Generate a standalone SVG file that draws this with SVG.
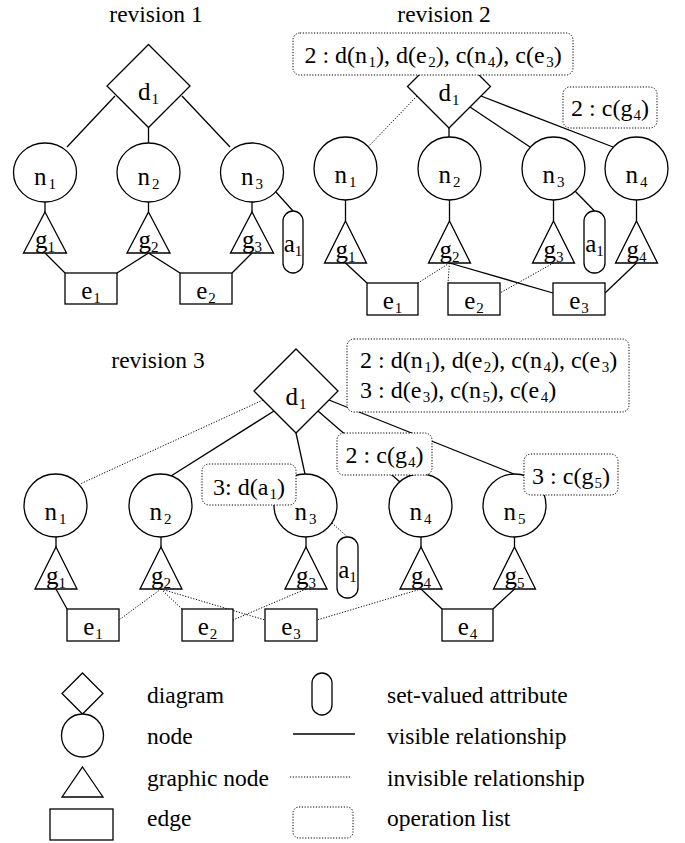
<svg xmlns="http://www.w3.org/2000/svg" width="685" height="843" viewBox="0 0 685 843">
<style>
.s{stroke:#000;stroke-width:1.3;fill:none}
.d{stroke:#000;stroke-width:1;stroke-dasharray:1.2 1.6;fill:none}
.sh{fill:#fff;stroke:#000;stroke-width:1.3}
.op{fill:#fff;stroke:#000;stroke-width:1;stroke-dasharray:1.2 1.6}
text{font-family:Liberation Serif,LiberationSerif,Times New Roman,Tinos,Noto Serif,DejaVu Serif,serif;fill:#000}
.lbl{font-size:25px;text-anchor:middle}
.sub{font-size:15px}
.opt{font-size:24px}
.title{font-size:23.5px;text-anchor:middle}
.leg{font-size:23.5px}
</style>
<rect width="685" height="843" fill="#fff"/>
<text class="title" x="156" y="22">revision 1</text>
<text class="title" x="444" y="22">revision 2</text>
<text class="title" x="158" y="368">revision 3</text>

<g id="connectors">
<line class="s" x1="115" y1="96" x2="67" y2="147"/>
<line class="s" x1="148.5" y1="127.5" x2="148.5" y2="143"/>
<line class="s" x1="182" y1="96" x2="230" y2="147"/>
<line class="s" x1="45" y1="202" x2="45" y2="212"/>
<line class="s" x1="148.5" y1="202" x2="148.5" y2="212"/>
<line class="s" x1="252" y1="202" x2="252" y2="212"/>
<line class="s" x1="275.5" y1="191.5" x2="293" y2="211"/>
<line class="s" x1="45" y1="253" x2="65" y2="273"/>
<line class="s" x1="148.5" y1="253" x2="117" y2="273"/>
<line class="s" x1="148.5" y1="253" x2="180" y2="273"/>
<line class="s" x1="252" y1="253" x2="232" y2="273"/>
<line class="d" x1="417" y1="96" x2="368" y2="147"/>
<line class="s" x1="449" y1="128" x2="449" y2="137"/>
<line class="s" x1="470" y1="107" x2="530" y2="147"/>
<line class="s" x1="481" y1="96" x2="613" y2="147"/>
<line class="s" x1="345.5" y1="200" x2="345.5" y2="221"/>
<line class="s" x1="449.5" y1="200" x2="449.5" y2="221"/>
<line class="s" x1="553.5" y1="200" x2="553.5" y2="221"/>
<line class="s" x1="636.5" y1="200" x2="636.5" y2="221"/>
<line class="s" x1="575" y1="191" x2="594.5" y2="211"/>
<line class="s" x1="345.5" y1="263" x2="367" y2="283"/>
<line class="d" x1="449.5" y1="263" x2="418" y2="283"/>
<line class="d" x1="449.5" y1="263" x2="448" y2="283"/>
<line class="s" x1="449.5" y1="263" x2="553" y2="293"/>
<line class="d" x1="553.5" y1="263" x2="500" y2="293"/>
<line class="s" x1="636.5" y1="263" x2="605" y2="293"/>
<line class="d" x1="263" y1="400" x2="80" y2="484"/>
<line class="s" x1="274" y1="411" x2="171" y2="476"/>
<line class="s" x1="296" y1="433" x2="305" y2="474"/>
<line class="s" x1="318" y1="411" x2="400" y2="482"/>
<line class="s" x1="329" y1="400" x2="514" y2="474"/>
<line class="d" x1="332" y1="523" x2="347.5" y2="537"/>
<line class="s" x1="56" y1="537" x2="56" y2="547"/>
<line class="s" x1="161" y1="537" x2="161" y2="547"/>
<line class="s" x1="306" y1="537" x2="306" y2="547"/>
<line class="s" x1="421" y1="537" x2="421" y2="547"/>
<line class="s" x1="514.5" y1="537" x2="514.5" y2="547"/>
<line class="s" x1="56" y1="589" x2="67" y2="609"/>
<line class="d" x1="161" y1="589" x2="119" y2="620"/>
<line class="d" x1="161" y1="589" x2="182" y2="609"/>
<line class="d" x1="161" y1="589" x2="265" y2="620"/>
<line class="d" x1="306" y1="589" x2="233" y2="620"/>
<line class="d" x1="421" y1="589" x2="317" y2="620"/>
<line class="s" x1="421" y1="589" x2="442" y2="609"/>
<line class="s" x1="514.5" y1="589" x2="493" y2="609"/>
</g>

<g id="r1-d1"><polygon class="sh" points="148.5,44.5 190,86 148.5,127.5 107,86"/><text class="lbl" x="148.5" y="100">d<tspan class="sub" dx="1" dy="4">1</tspan></text></g>
<g id="r1-n1"><ellipse class="sh" cx="45" cy="172.5" rx="31.5" ry="29.5"/><text class="lbl" x="45" y="185">n<tspan class="sub" dx="2" dy="4">1</tspan></text></g>
<g id="r1-n2"><ellipse class="sh" cx="148.5" cy="172.5" rx="31.5" ry="29.5"/><text class="lbl" x="148.5" y="185">n<tspan class="sub" dx="2" dy="4">2</tspan></text></g>
<g id="r1-n3"><ellipse class="sh" cx="252" cy="172.5" rx="31.5" ry="29.5"/><text class="lbl" x="252" y="185">n<tspan class="sub" dx="2" dy="4">3</tspan></text></g>
<g id="r1-g1"><polygon class="sh" points="45,212 66.5,253 23.5,253"/><text class="lbl" x="45" y="248">g<tspan class="sub" dy="4">1</tspan></text></g>
<g id="r1-g2"><polygon class="sh" points="148.5,212 170,253 127,253"/><text class="lbl" x="148.5" y="248">g<tspan class="sub" dy="4">2</tspan></text></g>
<g id="r1-g3"><polygon class="sh" points="252,212 273.5,253 230.5,253"/><text class="lbl" x="252" y="248">g<tspan class="sub" dy="4">3</tspan></text></g>
<g id="r1-a1"><rect class="sh" x="283" y="211" width="20" height="62" rx="10"/><text class="lbl" x="293" y="252">a<tspan class="sub" dy="4">1</tspan></text></g>
<g id="r1-e1"><rect class="sh" x="65" y="273" width="52" height="31"/><text class="lbl" x="91" y="299">e<tspan class="sub" dx="1" dy="4">1</tspan></text></g>
<g id="r1-e2"><rect class="sh" x="180" y="273" width="52" height="31"/><text class="lbl" x="206" y="299">e<tspan class="sub" dx="1" dy="4">2</tspan></text></g>

<g id="r2-d1"><polygon class="sh" points="449,45 490.5,86.5 449,128 407.5,86.5"/><text class="lbl" x="449" y="101">d<tspan class="sub" dx="1" dy="4">1</tspan></text></g>
<g id="r2-n1"><circle class="sh" cx="345.5" cy="168.5" r="31.5"/><text class="lbl" x="345.5" y="182.5">n<tspan class="sub" dx="2" dy="4">1</tspan></text></g>
<g id="r2-n2"><circle class="sh" cx="449.5" cy="168.5" r="31.5"/><text class="lbl" x="449.5" y="182.5">n<tspan class="sub" dx="2" dy="4">2</tspan></text></g>
<g id="r2-n3"><circle class="sh" cx="553.5" cy="168.5" r="31.5"/><text class="lbl" x="553.5" y="182.5">n<tspan class="sub" dx="2" dy="4">3</tspan></text></g>
<g id="r2-n4"><circle class="sh" cx="636.5" cy="168.5" r="31.5"/><text class="lbl" x="636.5" y="182.5">n<tspan class="sub" dx="2" dy="4">4</tspan></text></g>
<g id="r2-g1"><polygon class="sh" points="345.5,221 366.5,263 324.5,263"/><text class="lbl" x="345.5" y="258">g<tspan class="sub" dy="4">1</tspan></text></g>
<g id="r2-g2"><polygon class="sh" points="449.5,221 470.5,263 428.5,263"/><text class="lbl" x="449.5" y="258">g<tspan class="sub" dy="4">2</tspan></text></g>
<g id="r2-g3"><polygon class="sh" points="553.5,221 574.5,263 532.5,263"/><text class="lbl" x="553.5" y="258">g<tspan class="sub" dy="4">3</tspan></text></g>
<g id="r2-g4"><polygon class="sh" points="636.5,221 657.5,263 615.5,263"/><text class="lbl" x="636.5" y="258">g<tspan class="sub" dy="4">4</tspan></text></g>
<g id="r2-a1"><rect class="sh" x="584" y="211" width="21" height="62" rx="10"/><text class="lbl" x="594.5" y="252">a<tspan class="sub" dy="4">1</tspan></text></g>
<g id="r2-e1"><rect class="sh" x="367" y="283" width="51" height="32"/><text class="lbl" x="392.5" y="309">e<tspan class="sub" dx="1" dy="4">1</tspan></text></g>
<g id="r2-e2"><rect class="sh" x="448" y="283" width="52" height="32"/><text class="lbl" x="474" y="309">e<tspan class="sub" dx="1" dy="4">2</tspan></text></g>
<g id="r2-e3"><rect class="sh" x="553" y="283" width="52" height="32"/><text class="lbl" x="579" y="309">e<tspan class="sub" dx="1" dy="4">3</tspan></text></g>
<g id="r2-ops1"><rect class="op" x="293" y="33" width="280" height="42" rx="7"/><text class="opt" x="433" y="63" text-anchor="middle">2 : d(n<tspan class="sub" dx="1.5" dy="4">1</tspan><tspan dy="-4">), d(e</tspan><tspan class="sub" dx="1.5" dy="4">2</tspan><tspan dy="-4">), c(n</tspan><tspan class="sub" dx="1.5" dy="4">4</tspan><tspan dy="-4">), c(e</tspan><tspan class="sub" dx="1.5" dy="4">3</tspan><tspan dy="-4">)</tspan></text></g>
<g id="r2-ops2"><rect class="op" x="563" y="87" width="94" height="41" rx="7"/><text class="opt" x="610" y="116" text-anchor="middle">2 : c(g<tspan class="sub" dx="1" dy="4">4</tspan><tspan dy="-4">)</tspan></text></g>

<g id="r3-d1"><polygon class="sh" points="296,349 338,391 296,433 254,391"/><text class="lbl" x="296" y="405">d<tspan class="sub" dx="1" dy="4">1</tspan></text></g>
<g id="r3-n1"><circle class="sh" cx="55.5" cy="505.5" r="31.5"/><text class="lbl" x="55.5" y="520">n<tspan class="sub" dx="2" dy="4">1</tspan></text></g>
<g id="r3-n2"><circle class="sh" cx="160.5" cy="505.5" r="31.5"/><text class="lbl" x="160.5" y="520">n<tspan class="sub" dx="2" dy="4">2</tspan></text></g>
<g id="r3-n3"><circle class="sh" cx="305.5" cy="505.5" r="31.5"/><text class="lbl" x="305.5" y="520">n<tspan class="sub" dx="2" dy="4">3</tspan></text></g>
<g id="r3-n4"><circle class="sh" cx="420.5" cy="505.5" r="31.5"/><text class="lbl" x="420.5" y="520">n<tspan class="sub" dx="2" dy="4">4</tspan></text></g>
<g id="r3-n5"><circle class="sh" cx="514.5" cy="505.5" r="31.5"/><text class="lbl" x="514.5" y="520">n<tspan class="sub" dx="2" dy="4">5</tspan></text></g>
<g id="r3-g1"><polygon class="sh" points="56,547 77,589 35,589"/><text class="lbl" x="56" y="584">g<tspan class="sub" dy="4">1</tspan></text></g>
<g id="r3-g2"><polygon class="sh" points="161,547 182,589 140,589"/><text class="lbl" x="161" y="584">g<tspan class="sub" dy="4">2</tspan></text></g>
<g id="r3-g3"><polygon class="sh" points="306,547 327,589 285,589"/><text class="lbl" x="306" y="584">g<tspan class="sub" dy="4">3</tspan></text></g>
<g id="r3-g4"><polygon class="sh" points="421,547 442,589 400,589"/><text class="lbl" x="421" y="584">g<tspan class="sub" dy="4">4</tspan></text></g>
<g id="r3-g5"><polygon class="sh" points="514.5,547 535.5,589 493.5,589"/><text class="lbl" x="514.5" y="584">g<tspan class="sub" dy="4">5</tspan></text></g>
<g id="r3-a1"><rect class="sh" x="337" y="537" width="21" height="61" rx="10"/><text class="lbl" x="347.5" y="578">a<tspan class="sub" dy="4">1</tspan></text></g>
<g id="r3-e1"><rect class="sh" x="67" y="609" width="52" height="32"/><text class="lbl" x="93" y="635">e<tspan class="sub" dx="1" dy="4">1</tspan></text></g>
<g id="r3-e2"><rect class="sh" x="182" y="609" width="51" height="32"/><text class="lbl" x="207.5" y="635">e<tspan class="sub" dx="1" dy="4">2</tspan></text></g>
<g id="r3-e3"><rect class="sh" x="265" y="609" width="52" height="32"/><text class="lbl" x="291" y="635">e<tspan class="sub" dx="1" dy="4">3</tspan></text></g>
<g id="r3-e4"><rect class="sh" x="442" y="609" width="51" height="32"/><text class="lbl" x="467.5" y="635">e<tspan class="sub" dx="1" dy="4">4</tspan></text></g>
<g id="r3-ops1"><rect class="op" x="347" y="339" width="282" height="73" rx="7"/><text class="opt" x="360" y="368">2 : d(n<tspan class="sub" dx="1.5" dy="4">1</tspan><tspan dy="-4">), d(e</tspan><tspan class="sub" dx="1.5" dy="4">2</tspan><tspan dy="-4">), c(n</tspan><tspan class="sub" dx="1.5" dy="4">4</tspan><tspan dy="-4">), c(e</tspan><tspan class="sub" dx="1.5" dy="4">3</tspan><tspan dy="-4">)</tspan></text><text class="opt" x="360" y="398">3 : d(e<tspan class="sub" dx="1.5" dy="4">3</tspan><tspan dy="-4">), c(n</tspan><tspan class="sub" dx="1.5" dy="4">5</tspan><tspan dy="-4">), c(e</tspan><tspan class="sub" dx="1.5" dy="4">4</tspan><tspan dy="-4">)</tspan></text></g>
<g id="r3-ops2"><rect class="op" x="337" y="433" width="95" height="42" rx="7"/><text class="opt" x="384.5" y="463" text-anchor="middle">2 : c(g<tspan class="sub" dx="1" dy="4">4</tspan><tspan dy="-4">)</tspan></text></g>
<g id="r3-ops3"><rect class="op" x="524" y="454" width="94" height="41" rx="7"/><text class="opt" x="571" y="484" text-anchor="middle">3 : c(g<tspan class="sub" dx="1" dy="4">5</tspan><tspan dy="-4">)</tspan></text></g>
<g id="r3-ops4"><rect class="op" x="202" y="464" width="94" height="41" rx="7"/><text class="opt" x="249" y="495" text-anchor="middle">3: d(a<tspan class="sub" dx="1" dy="4">1</tspan><tspan dy="-4">)</tspan></text></g>

<g id="legend">
<polygon class="sh" points="82.5,673 103,693.5 82.5,714 62,693.5"/>
<ellipse class="sh" cx="82.5" cy="735.5" rx="21" ry="21.5"/>
<polygon class="sh" points="82.5,767 103,797 62,797"/>
<rect class="sh" x="50" y="809" width="63" height="31"/>
<text class="leg" x="147" y="703">diagram</text>
<text class="leg" x="147" y="744">node</text>
<text class="leg" x="147" y="786">graphic node</text>
<text class="leg" x="147" y="826">edge</text>
<rect class="sh" x="312" y="673" width="20" height="42" rx="10"/>
<line class="s" x1="293" y1="734" x2="355" y2="734"/>
<line class="d" x1="290" y1="777" x2="351" y2="777"/>
<rect class="op" x="293" y="807" width="60" height="31" rx="6"/>
<text class="leg" x="387" y="703">set-valued attribute</text>
<text class="leg" x="387" y="744">visible relationship</text>
<text class="leg" x="387" y="786">invisible relationship</text>
<text class="leg" x="387" y="826">operation list</text>
</g>
</svg>
